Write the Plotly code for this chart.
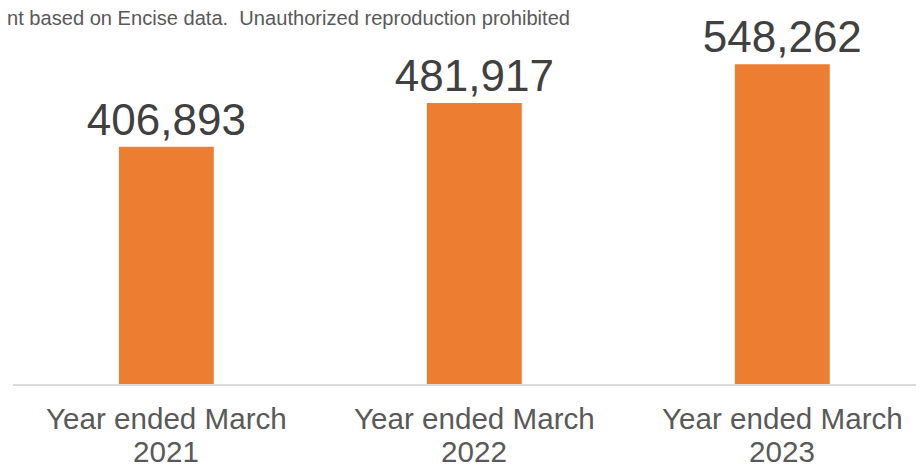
import plotly.graph_objects as go

categories = ["Year ended March", "Year ended March", "Year ended March"]
years = ["2021", "2022", "2023"]
values = [406893, 481917, 548262]
value_labels = ["406,893", "481,917", "548,262"]
note = "nt based on Encise data.  Unauthorized reproduction prohibited"

FONT = "Liberation Sans, Arial, sans-serif"
xs = [0, 1, 2]

fig = go.Figure(go.Bar(
    x=xs, y=values,
    marker=dict(color="#ED7D31", line=dict(width=0)),
    width=0.308,
    text=value_labels, textposition="outside", constraintext="none",
    textfont=dict(family=FONT, size=44, color="#404040"),
    cliponaxis=False,
))

annotations = [dict(text=note, xref="paper", yref="paper", x=0, y=1, xanchor="left", yanchor="middle",
                    xshift=-8, yshift=-10, showarrow=False,
                    font=dict(size=20.1, color="#595959", family=FONT))]
for x, c, yr in zip(xs, categories, years):
    annotations.append(dict(text=c, x=x, xref="x", y=0, yref="paper", yanchor="middle",
                            yshift=-34, showarrow=False, font=dict(size=29.6, color="#595959", family=FONT)))
    annotations.append(dict(text=yr, x=x, xref="x", y=0, yref="paper", yanchor="middle",
                            yshift=-67, showarrow=False, font=dict(size=29.6, color="#595959", family=FONT)))

fig.update_layout(
    width=924, height=465,
    margin=dict(l=5, r=0, t=0, b=89, autoexpand=False),
    paper_bgcolor="white", plot_bgcolor="white",
    showlegend=False,
    font=dict(family=FONT),
    xaxis=dict(range=[-0.498, 2.486], showticklabels=False, automargin=False,
               showline=True, linecolor="#D9D9D9", linewidth=2, showgrid=False, zeroline=False, ticks=""),
    yaxis=dict(range=[0, 644840], visible=False, automargin=False),
    annotations=annotations,
)

fig.write_html("out.html")
